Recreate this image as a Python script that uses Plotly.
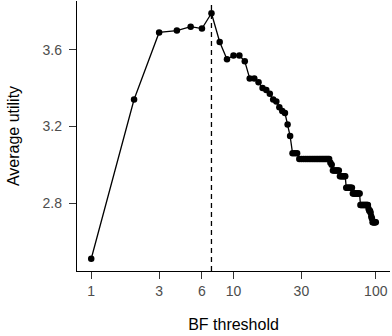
import numpy as np
import plotly.graph_objects as go

# data
bf_threshold = list(range(1, 101))
avg_utility = [
    2.51, 3.34, 3.69, 3.70, 3.72, 3.71, 3.79, 3.64, 3.55, 3.57,
    3.57, 3.54, 3.45, 3.45, 3.43, 3.40, 3.39, 3.37, 3.34, 3.33,
    3.30, 3.28, 3.27, 3.21, 3.15, 3.06, 3.06, 3.06, 3.03, 3.03,
    3.03, 3.03, 3.03, 3.03, 3.03, 3.03, 3.03, 3.03, 3.03, 3.03,
    3.03, 3.03, 3.03, 3.03, 3.03, 3.03, 3.03, 3.01, 3.00, 2.97,
    2.97, 2.97, 2.97, 2.97, 2.97, 2.94, 2.94, 2.94, 2.94, 2.94,
    2.94, 2.88, 2.88, 2.88, 2.88, 2.88, 2.88, 2.88, 2.85, 2.85,
    2.85, 2.85, 2.85, 2.85, 2.85, 2.85, 2.85, 2.79, 2.79, 2.79,
    2.79, 2.79, 2.79, 2.79, 2.79, 2.79, 2.79, 2.79, 2.77, 2.76,
    2.76, 2.75, 2.73, 2.72, 2.70, 2.70, 2.70, 2.70, 2.70, 2.70,
]
best_threshold = 7
x_ticks = [1, 3, 6, 10, 30, 100]
y_ticks = [2.8, 3.2, 3.6]

# ggplot-style 5% expansion of the ranges
lx = np.log10(bf_threshold)
dx = (lx.max() - lx.min()) * 0.05
x_range = [lx.min() - dx, lx.max() + dx]
dy = (max(avg_utility) - min(avg_utility)) * 0.05
y_range = [min(avg_utility) - dy, max(avg_utility) + dy]

fig = go.Figure()

fig.add_trace(go.Scatter(
    x=bf_threshold, y=avg_utility,
    mode="lines+markers",
    line=dict(color="black", width=1.3),
    marker=dict(color="black", size=6.5),
    showlegend=False,
))

fig.add_shape(
    type="line", xref="x", yref="paper",
    x0=best_threshold, x1=best_threshold, y0=0, y1=1,
    line=dict(color="black", width=1.3, dash="5px,4px"),
)

fig.update_layout(
    width=392, height=336,
    margin=dict(l=77, r=2, t=1, b=65),
    paper_bgcolor="white", plot_bgcolor="white",
    font=dict(family="Liberation Sans, Arial, sans-serif", color="black"),
)

fig.update_xaxes(
    type="log", range=x_range,
    tickvals=x_ticks, ticktext=[str(t) for t in x_ticks],
    ticks="outside", ticklen=7, tickwidth=1.1, tickcolor="#333333",
    tickfont=dict(size=14, color="#4d4d4d"),
    showline=True, linecolor="black", linewidth=1.3,
    showgrid=False, zeroline=False,
    title=dict(text="BF threshold", font=dict(size=16), standoff=20),
)
fig.update_yaxes(
    range=y_range,
    tickvals=y_ticks, ticktext=[f"{t:.1f}" for t in y_ticks],
    ticks="outside", ticklen=7, tickwidth=1.1, tickcolor="#333333",
    tickfont=dict(size=14, color="#4d4d4d"), ticklabelstandoff=4,
    showline=True, linecolor="black", linewidth=1.3,
    showgrid=False, zeroline=False,
    title=dict(text="Average utility", font=dict(size=16), standoff=18),
)

# drop the default body margin so the figure sits at the window's corner
fig.write_html("out.html", config={"displayModeBar": False},
               post_script="document.body.style.margin='0';")
